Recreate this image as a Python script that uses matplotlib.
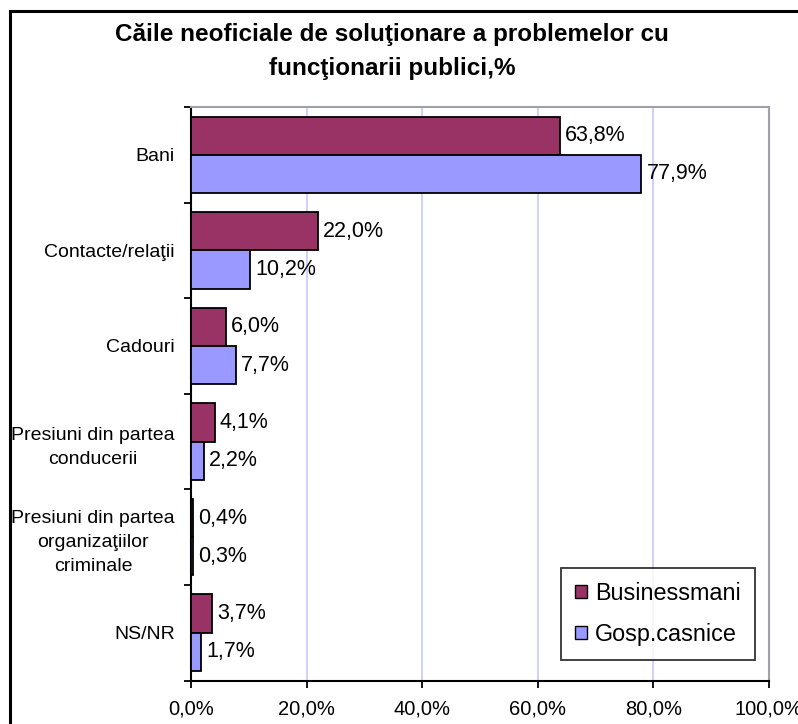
import matplotlib
matplotlib.use("Agg")
import matplotlib.pyplot as plt
from matplotlib.patches import Rectangle, Patch
import numpy as np

plt.rcParams['font.family'] = ['Liberation Sans', 'DejaVu Sans']

categories = ["Bani", "Contacte/relaţii", "Cadouri",
              "Presiuni din partea\nconducerii",
              "Presiuni din partea\norganizaţiilor\ncriminale",
              "NS/NR"]
businessmani = [63.8, 22.0, 6.0, 4.1, 0.4, 3.7]
gosp_casnice = [77.9, 10.2, 7.7, 2.2, 0.3, 1.7]
series_names = ["Businessmani", "Gosp.casnice"]
xticks = [0, 20, 40, 60, 80, 100]
xtick_labels = ["0,0%", "20,0%", "40,0%", "60,0%", "80,0%", "100,0%"]
title = "Căile neoficiale de soluţionare a problemelor cu\nfuncţionarii publici,%"

c1 = "#993366"
c2 = "#9999FF"

W, H = 798, 724
fig = plt.figure(figsize=(W/100, H/100), dpi=100)
fig.patch.set_facecolor("white")

ax = fig.add_axes([191/W, 1-680.5/H, (769-191)/W, (680.5-107)/H])

n = len(categories)
centers = np.arange(n) + 0.5
bh = 0.4
ax.barh(centers - bh/2, businessmani, height=bh, color=c1, edgecolor="black", linewidth=1.3, zorder=3)
ax.barh(centers + bh/2, gosp_casnice, height=bh, color=c2, edgecolor="black", linewidth=1.3, zorder=3)

fmt = lambda v: f"{v:.1f}%".replace(".", ",")
for y, v in zip(centers - bh/2, businessmani):
    ax.text(v + 0.9, y, fmt(v), va="center", ha="left", fontsize=15.5, zorder=4)
for y, v in zip(centers + bh/2, gosp_casnice):
    ax.text(v + 0.9, y, fmt(v), va="center", ha="left", fontsize=15.5, zorder=4)

ax.set_xlim(0, 100)
ax.set_ylim(n, 0)
ax.set_xticks(xticks)
ax.set_xticklabels(xtick_labels, fontsize=14.5)
ax.tick_params(axis="x", direction="out", length=5, width=1.3, pad=9, color="black")

ax.set_yticks(np.arange(n + 1))
ax.set_yticklabels([])
ax.tick_params(axis="y", which="major", direction="out", length=5, width=1.3)
ax.set_yticks(centers, minor=True)
ax.set_yticklabels(categories, minor=True, fontsize=14, multialignment="center",
                   linespacing=1.55)
ax.tick_params(axis="y", which="minor", length=0, pad=11.5)

for x in xticks[1:-1]:
    ax.axvline(x, color="#c8c8ff", linewidth=1.2, zorder=1)

ax.spines["left"].set_color("black")
ax.spines["left"].set_linewidth(1.5)
ax.spines["bottom"].set_color("black")
ax.spines["bottom"].set_linewidth(1.5)
ax.spines["top"].set_color("#a0a0a8")
ax.spines["top"].set_linewidth(1.5)
ax.spines["right"].set_color("#a0a0a8")
ax.spines["right"].set_linewidth(1.5)

handles = [Patch(facecolor=c1, edgecolor="black", linewidth=1.0),
           Patch(facecolor=c2, edgecolor="black", linewidth=1.0)]
leg = ax.legend(handles, series_names, loc="upper left",
                bbox_to_anchor=((561-191)/(769-191), 1-(568-107)/(680.5-107)),
                fontsize=16.8, frameon=True, fancybox=False, edgecolor="black",
                handlelength=0.5, handleheight=0.5, handletextpad=0.35,
                labelspacing=0.75, borderpad=0.6, borderaxespad=0)
leg.get_frame().set_linewidth(1.3)

fig.text(392/W, 1-51.5/H, title, ha="center", va="center", fontsize=17.5,
         fontweight="bold", linespacing=1.58)

frame = Rectangle((10/W, -0.1), 1.2, (H-10.5)/H + 0.1, transform=fig.transFigure,
                  fill=False, edgecolor="black", linewidth=2.2, clip_on=False)
fig.patches.append(frame)

fig.savefig("out.png", dpi=100)
